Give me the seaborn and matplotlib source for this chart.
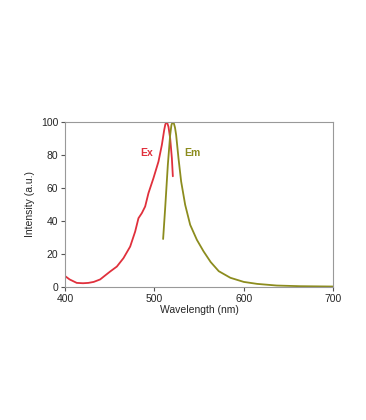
import matplotlib
matplotlib.use("Agg")
import matplotlib.pyplot as plt
import seaborn as sns
import pandas as pd

ex_wl = [400, 405, 413, 420, 426, 432, 439.2, 445, 450.4, 457.9, 465.3, 472.8, 478.4, 482.1, 485.9, 489.6, 493.3, 498.9, 504.5, 508.3, 510.9, 512.2, 513.3, 514.5, 515.7, 517.6, 519.5, 520.6]
ex_int = [6.5, 4.5, 2.4, 2.2, 2.4, 3.0, 4.5, 7.0, 9.3, 12.3, 17.4, 24.4, 33.5, 41.6, 44.7, 48.7, 56.8, 65.9, 75.9, 86, 95, 98.5, 99.5, 99, 97, 90, 78, 67]

em_wl = [509.7, 512, 515, 517.6, 519, 520.4, 521.6, 523, 524.3, 526.9, 529.9, 534.4, 540, 547.5, 555, 563, 572, 585, 600, 615, 637, 663, 700]
em_int = [29, 47.7, 74, 92, 98, 100, 99.3, 96.5, 92, 78, 63.8, 49.7, 37.6, 28.5, 21.5, 15, 9.5, 5.5, 3, 1.8, 0.8, 0.4, 0.2]

x_ticks = [400, 500, 600, 700]
y_ticks = [0, 20, 40, 60, 80, 100]

sns.set_theme(style="white")
plt.rcParams['font.family'] = ['Liberation Sans', 'DejaVu Sans']

fig = plt.figure(figsize=(3.66, 4.2), dpi=100)
ax = fig.add_axes([0.178, 0.317, 0.732, 0.393])

ex_col = "#e0303c"
em_col = "#8c8c1e"
sns.lineplot(x=ex_wl, y=ex_int, ax=ax, color=ex_col, lw=1.3, sort=False)
sns.lineplot(x=em_wl, y=em_int, ax=ax, color=em_col, lw=1.3, sort=False)

ax.set_xlim(400, 700)
ax.set_ylim(0, 100)
ax.set_xticks(x_ticks)
ax.set_yticks(y_ticks)
ax.tick_params(axis='both', which='both', direction='out', length=3, width=0.8,
               color="#555555", labelsize=7.5, pad=2, bottom=True, left=True)
for s in ax.spines.values():
    s.set_color("#999999")
    s.set_linewidth(0.8)
ax.set_xlabel("Wavelength (nm)", fontsize=7.5, labelpad=1)
ax.set_ylabel("Intensity (a.u.)", fontsize=7.5, labelpad=4)

ax.text(491, 81, "Ex", color=ex_col, fontsize=7.5, fontweight='bold', ha='center', va='center')
ax.text(543, 81, "Em", color=em_col, fontsize=7.5, fontweight='bold', ha='center', va='center')

fig.savefig("out.png", dpi=100)
